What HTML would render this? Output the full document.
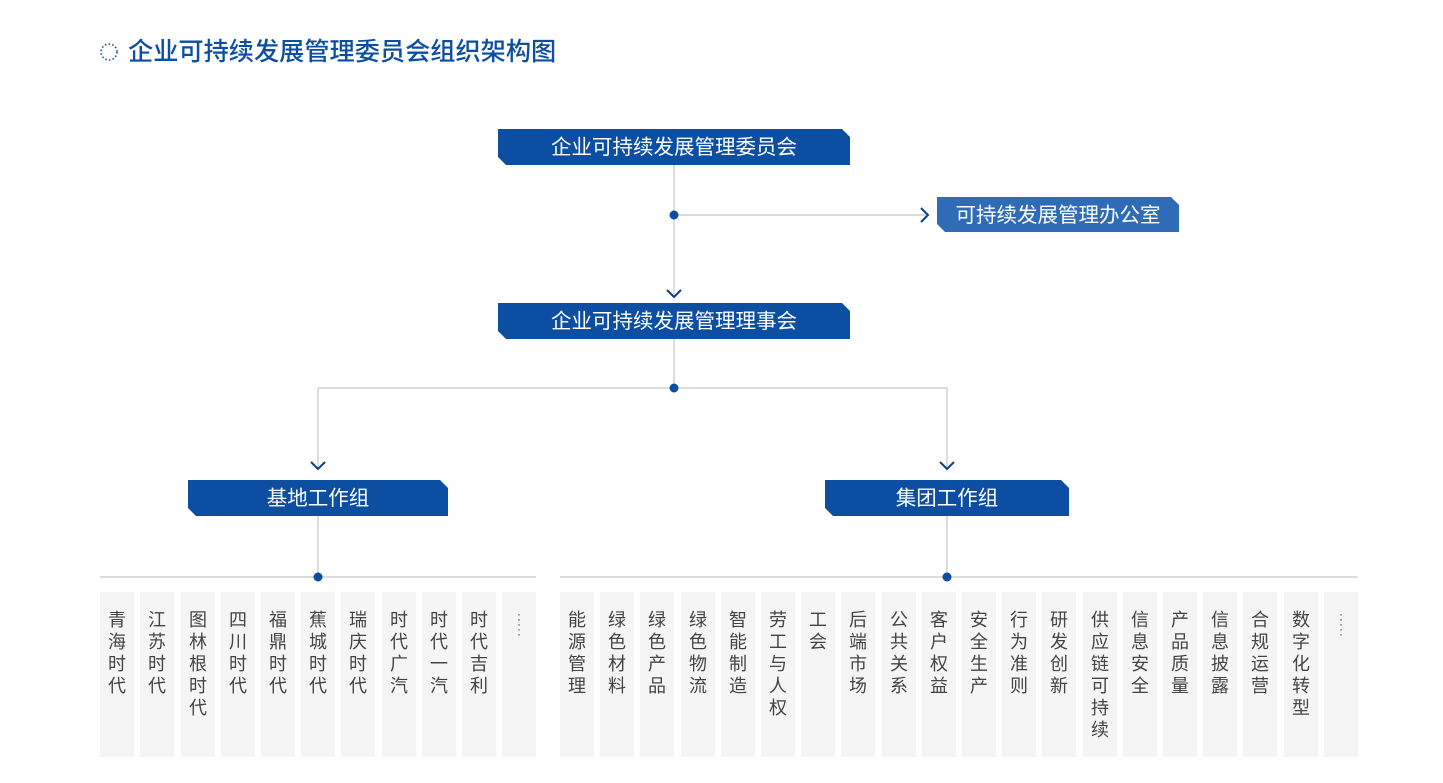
<!DOCTYPE html>
<html><head><meta charset="utf-8"><style>
body{margin:0;width:1443px;height:783px;background:#fff;position:relative;overflow:hidden;font-family:"Liberation Sans","Noto Sans CJK SC",sans-serif}
.b{position:absolute;background:#0b4ea2;color:#fff;font-size:20.5px;text-align:center;clip-path:polygon(0 0,calc(100% - 8px) 0,100% 8px,100% 100%,8px 100%,0 calc(100% - 8px))}
.c{position:absolute;top:592px;width:34px;height:165px;background:#f5f5f5;color:#444;font-size:18px;line-height:22px;text-align:center;padding-top:17px;box-sizing:border-box}
.t{position:absolute;left:128px;top:35px;font-size:25.2px;font-weight:500;color:#0b4ea2;line-height:34px}
</style></head><body>
<svg width="1443" height="783" style="position:absolute;left:0;top:0">
<circle cx="109" cy="52" r="8" fill="none" stroke="#0b4ea2" stroke-width="1.6" stroke-dasharray="1.5 2.2"/>
<g stroke="#d0d0d0" stroke-width="1.5" fill="none">
<line x1="674" y1="165" x2="674" y2="296"/>
<line x1="674" y1="215" x2="926" y2="215"/>
<line x1="674" y1="339" x2="674" y2="388"/>
<line x1="318" y1="388" x2="947" y2="388"/>
<line x1="318" y1="388" x2="318" y2="468"/>
<line x1="947" y1="388" x2="947" y2="468"/>
<line x1="318" y1="516" x2="318" y2="577"/>
<line x1="947" y1="516" x2="947" y2="577"/>
<line x1="100" y1="577" x2="536" y2="577"/>
<line x1="560" y1="577" x2="1358" y2="577"/>
</g>
<g stroke="#0b3f88" stroke-width="2" fill="none">
<polyline points="667,290 674,297 681,290"/>
<polyline points="311,462 318,469 325,462"/>
<polyline points="940,462 947,469 954,462"/>
<polyline points="921,208 928,215 921,222"/>
</g>
<g fill="#0b4ea2">
<circle cx="674" cy="215" r="4.5"/><circle cx="674" cy="388" r="4.5"/>
<circle cx="318" cy="577" r="4.5"/><circle cx="947" cy="577" r="4.5"/>
</g>
</svg>
<div class="t">企业可持续发展管理委员会组织架构图</div>
<div class="b" style="left:498px;top:129px;width:352px;height:36px;line-height:38px">企业可持续发展管理委员会</div>
<div class="b" style="left:937px;top:197px;width:242px;height:35px;line-height:37px;background:#2f6bb7">可持续发展管理办公室</div>
<div class="b" style="left:498px;top:303px;width:352px;height:36px;line-height:38px">企业可持续发展管理理事会</div>
<div class="b" style="left:188px;top:480px;width:260px;height:36px;line-height:38px">基地工作组</div>
<div class="b" style="left:825px;top:480px;width:244px;height:36px;line-height:38px">集团工作组</div>
<div class="c" style="left:100px">青<br>海<br>时<br>代</div>
<div class="c" style="left:140px">江<br>苏<br>时<br>代</div>
<div class="c" style="left:181px">图<br>林<br>根<br>时<br>代</div>
<div class="c" style="left:221px">四<br>川<br>时<br>代</div>
<div class="c" style="left:261px">福<br>鼎<br>时<br>代</div>
<div class="c" style="left:301px">蕉<br>城<br>时<br>代</div>
<div class="c" style="left:341px">瑞<br>庆<br>时<br>代</div>
<div class="c" style="left:382px">时<br>代<br>广<br>汽</div>
<div class="c" style="left:422px">时<br>代<br>一<br>汽</div>
<div class="c" style="left:462px">时<br>代<br>吉<br>利</div>
<div class="c" style="left:502px;font-size:12px;line-height:5px;padding-top:20px">·<br>·<br>·<br>·<br>·</div>
<div class="c" style="left:560px">能<br>源<br>管<br>理</div>
<div class="c" style="left:600px">绿<br>色<br>材<br>料</div>
<div class="c" style="left:640px">绿<br>色<br>产<br>品</div>
<div class="c" style="left:681px">绿<br>色<br>物<br>流</div>
<div class="c" style="left:721px">智<br>能<br>制<br>造</div>
<div class="c" style="left:761px">劳<br>工<br>与<br>人<br>权</div>
<div class="c" style="left:801px">工<br>会</div>
<div class="c" style="left:841px">后<br>端<br>市<br>场</div>
<div class="c" style="left:882px">公<br>共<br>关<br>系</div>
<div class="c" style="left:922px">客<br>户<br>权<br>益</div>
<div class="c" style="left:962px">安<br>全<br>生<br>产</div>
<div class="c" style="left:1002px">行<br>为<br>准<br>则</div>
<div class="c" style="left:1042px">研<br>发<br>创<br>新</div>
<div class="c" style="left:1083px">供<br>应<br>链<br>可<br>持<br>续</div>
<div class="c" style="left:1123px">信<br>息<br>安<br>全</div>
<div class="c" style="left:1163px">产<br>品<br>质<br>量</div>
<div class="c" style="left:1203px">信<br>息<br>披<br>露</div>
<div class="c" style="left:1243px">合<br>规<br>运<br>营</div>
<div class="c" style="left:1284px">数<br>字<br>化<br>转<br>型</div>
<div class="c" style="left:1324px;font-size:12px;line-height:5px;padding-top:20px">·<br>·<br>·<br>·<br>·</div>
</body></html>
